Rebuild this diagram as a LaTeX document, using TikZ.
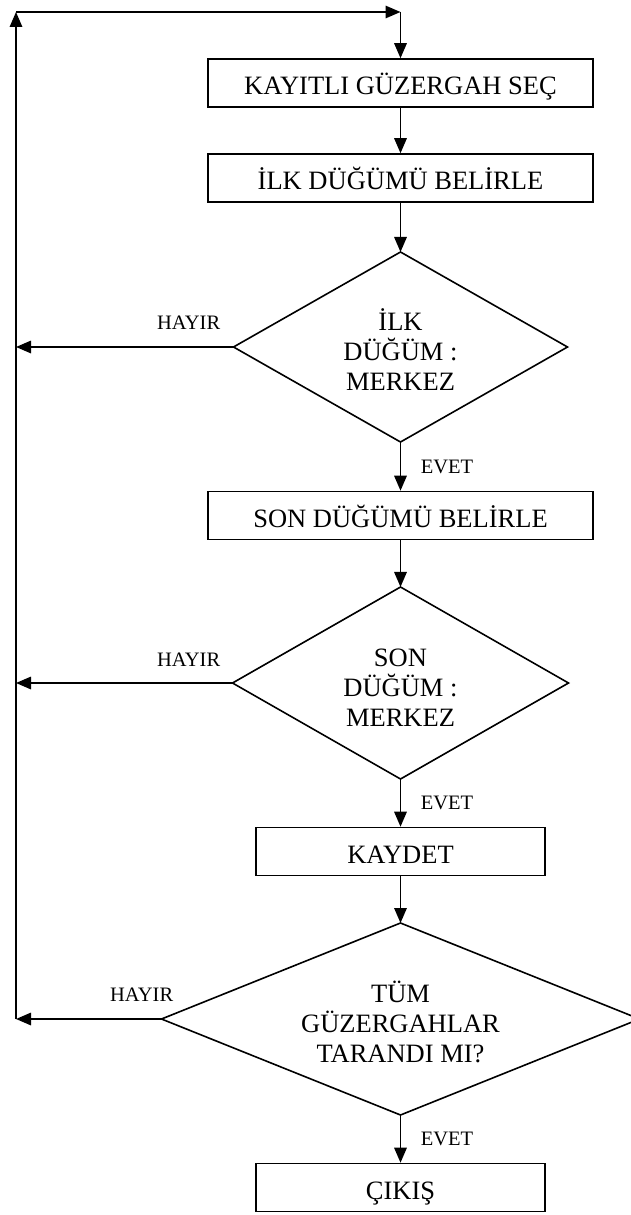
\documentclass[tikz,border=0pt]{standalone}
\usepackage{fontspec}
\setmainfont{Liberation Serif}
\usetikzlibrary{shapes.geometric,arrows.meta}
\begin{document}
\begin{tikzpicture}[x=1pt,y=-1pt,
  line width=1.6pt,
  arr/.style={-{Triangle[length=15pt,width=12.5pt]}},
  stepbox/.style={draw, rectangle, minimum height=48pt, inner sep=0pt,
    font=\fontsize{26.5}{30}\selectfont, text height=23.5pt, text depth=0pt},
  wide/.style={stepbox, minimum width=385pt},
  narrow/.style={stepbox, minimum width=289pt},
  decision/.style={draw, diamond, inner sep=0pt, outer sep=0pt},
  question/.style={align=center, font=\fontsize{26.5}{30}\selectfont, inner sep=0pt},
  answer/.style={font=\fontsize{20.5}{24}\selectfont, inner sep=0pt}
]
\useasboundingbox (0,0) rectangle (631,1215);

% process steps and decisions along the main column
\node[wide] (b1) at (400.5,83) {KAYITLI GÜZERGAH SEÇ};
\node[wide] (b2) at (400.5,178) {İLK DÜĞÜMÜ BELİRLE};
\node[decision, minimum width=334pt, minimum height=190pt] (d1) at (400.5,347) {};
\node[question] (q1) at (400.5,350) {İLK\\DÜĞÜM :\\MERKEZ};
\node[wide] (b3) at (400.5,515.5) {SON DÜĞÜMÜ BELİRLE};
\node[decision, minimum width=336pt, minimum height=192pt] (d2) at (400.5,683) {};
\node[question] (q2) at (400.5,688) {SON\\DÜĞÜM :\\MERKEZ};
\node[narrow] (b4) at (400.5,851.5) {KAYDET};
\node[decision, minimum width=478pt, minimum height=192pt] (d3) at (400.5,1019) {};
\node[question] (q3) at (400.5,1022) {TÜM\\GÜZERGAHLAR\\TARANDI MI?};
\node[narrow] (b5) at (400.5,1187.5) {ÇIKIŞ};

% return path on the left
\coordinate (h1) at (16,347);
\coordinate (h2) at (16,683);
\coordinate (h3) at (16,1019);
\coordinate (tl) at (16,12);
\coordinate (tr) at (400.5,12);

% main flow
\draw[arr] (b1) -- (b2);
\draw[arr] (b2) -- (d1);
\draw[arr] (d1) -- (b3);
\draw[arr] (b3) -- (d2);
\draw[arr] (d2) -- (b4);
\draw[arr] (b4) -- (d3);
\draw[arr] (d3) -- (b5);

% "no" branches back to the start
\draw[arr] (d1.west) -- (h1);
\draw[arr] (d2.west) -- (h2);
\draw[arr] (d3.west) -- (h3);
\draw[arr] (h3) -- (tl);
\draw[arr] (tl) -- (tr);
\draw[arr] (tr) -- (b1);

% branch labels
\node[answer, anchor=base east] (n1) at (221,329) {HAYIR};
\node[answer, anchor=base east] (n2) at (221,666) {HAYIR};
\node[answer, anchor=base east] (n3) at (174,1001) {HAYIR};
\node[answer, anchor=base west] (y1) at (420,473) {EVET};
\node[answer, anchor=base west] (y2) at (420,809) {EVET};
\node[answer, anchor=base west] (y3) at (420,1145) {EVET};
\end{tikzpicture}
\end{document}
